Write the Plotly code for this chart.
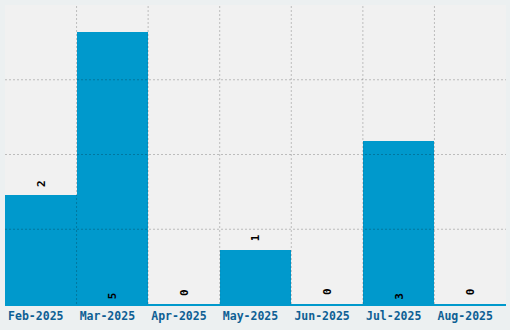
import plotly.graph_objects as go

months = ["Feb-2025", "Mar-2025", "Apr-2025", "May-2025", "Jun-2025", "Jul-2025", "Aug-2025"]
counts = [2, 5, 0, 1, 0, 3, 0]

y_max = 5.5
grid_vals = [1.375, 2.75, 4.125]

BAR = "#0099cc"
GRID = "rgba(0,0,0,0.22)"
FONT = "DejaVu Sans Mono"

fig = go.Figure(go.Bar(
    x=months, y=counts, marker=dict(color=BAR, line=dict(width=0)),
    width=1.0, hoverinfo="skip",
))

shapes = []
for i in range(1, len(months)):
    shapes.append(dict(type="line", xref="x", yref="paper", x0=i - 0.5, x1=i - 0.5, y0=0, y1=1,
                       line=dict(color=GRID, width=1, dash="2px,2px"), layer="above"))
for v in grid_vals:
    shapes.append(dict(type="line", xref="paper", yref="y", x0=0, x1=1, y0=v, y1=v,
                       line=dict(color=GRID, width=1, dash="2px,2px"), layer="above"))

annotations = []
for m, c in zip(months, counts):
    inside = c > y_max / 2 * 0.9
    annotations.append(dict(
        x=m, y=0 if inside else c, yshift=8 if inside else 12,
        text=str(c), showarrow=False, textangle=-90,
        font=dict(family=FONT, size=11, color="#000000", weight="bold"),
        xanchor="center", yanchor="middle",
    ))

fig.update_layout(
    width=510, height=330,
    margin=dict(l=5, r=4, t=5, b=26),
    paper_bgcolor="#ecf0f1", plot_bgcolor="#f1f1f1",
    bargap=0, showlegend=False,
    shapes=shapes, annotations=annotations,
    xaxis=dict(type="category", showgrid=False, zeroline=False, showline=True,
               linecolor=BAR, linewidth=1.5, ticks="", ticklabelshift=-5,
               tickfont=dict(family=FONT, size=11.5, color="#0e5f94", weight="bold"),
               range=[-0.5, len(months) - 0.5], fixedrange=True),
    yaxis=dict(range=[0, y_max], showgrid=False, zeroline=False, showticklabels=False,
               ticks="", fixedrange=True),
)

fig.write_html("out.html", config={"displayModeBar": False})
